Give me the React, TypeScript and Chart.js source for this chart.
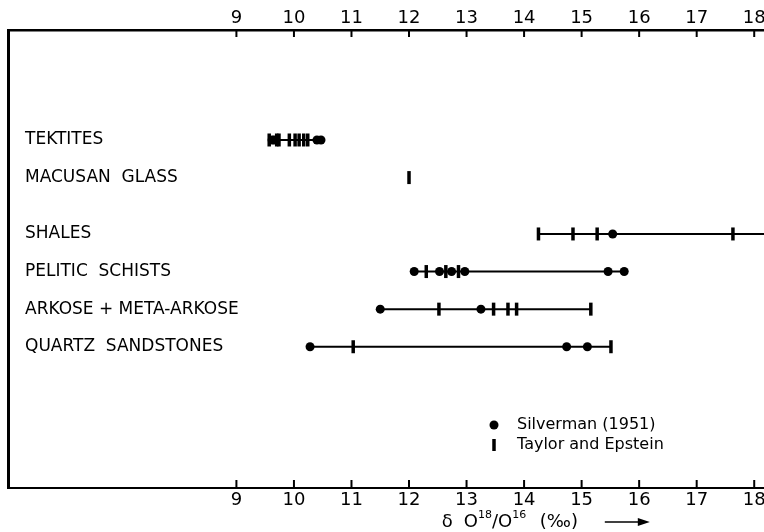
import React, { useEffect, useRef } from "react";
import { Chart, registerables } from "chart.js";

Chart.register(...registerables);

// ---- data ----
const rowNames = [
  "TEKTITES",
  "MACUSAN  GLASS",
  "SHALES",
  "PELITIC  SCHISTS",
  "ARKOSE + META-ARKOSE",
  "QUARTZ  SANDSTONES",
];
const rowPositions = [0, 1, 2.5, 3.5, 4.5, 5.5];

const silvermanValues = [
  [9.62, 9.66, 10.4, 10.47],
  [],
  [15.54],
  [12.09, 12.53, 12.74, 12.97, 15.46, 15.74],
  [11.5, 13.25],
  [10.28, 14.74, 15.1],
];
const taylorValues = [
  [9.57, 9.7, 9.74, 9.92, 10.02, 10.09, 10.17, 10.24],
  [12.0],
  [14.25, 14.85, 15.27, 17.63],
  [12.3, 12.64, 12.86],
  [12.52, 13.47, 13.72, 13.87, 15.16],
  [11.03, 15.51],
];
const rangeLow = [9.57, null, 14.25, 12.09, 11.5, 10.28];
const rangeHigh = [10.47, null, 18.6, 15.74, 15.16, 15.51];

const xTickValues = [9, 10, 11, 12, 13, 14, 15, 16, 17, 18];
const xMin = 5.03;
const xMax = 18.17;
const yMin = -2.926;
const yMax = 9.258;

const legendLabels = ["Silverman (1951)", "Taylor and Epstein"];
const FONT = "DejaVu Sans";

export default function App() {
  const canvasRef = useRef<HTMLCanvasElement | null>(null);

  useEffect(() => {
    const canvas = canvasRef.current;
    if (!canvas) return;

    const silvermanPoints: { x: number; y: number }[] = [];
    const taylorPoints: { x: number; y: number }[] = [];
    silvermanValues.forEach((vals, i) =>
      vals.forEach((v) => silvermanPoints.push({ x: v, y: rowPositions[i] }))
    );
    taylorValues.forEach((vals, i) =>
      vals.forEach((v) => taylorPoints.push({ x: v, y: rowPositions[i] }))
    );

    const lineDatasets: any[] = [];
    rangeLow.forEach((lo, i) => {
      const hi = rangeHigh[i];
      if (lo == null || hi == null) return;
      lineDatasets.push({
        type: "scatter",
        label: "range-" + i,
        data: [
          { x: lo, y: rowPositions[i] },
          { x: hi, y: rowPositions[i] },
        ],
        showLine: true,
        borderColor: "#000",
        borderWidth: 2,
        pointRadius: 0,
        pointHoverRadius: 0,
        order: 2,
      });
    });

    const fitX = (h: number) => (scale: any) => {
      scale.height = h;
      scale.paddingLeft = 0;
      scale.paddingRight = 0;
    };

    const inwardTicks = {
      id: "inwardTicks",
      afterDraw(chart: any) {
        const { ctx, chartArea } = chart;
        const xs = chart.scales.x;
        ctx.save();
        ctx.strokeStyle = "#000";
        ctx.lineWidth = 2;
        xTickValues.forEach((v) => {
          const px = xs.getPixelForValue(v);
          ctx.beginPath();
          ctx.moveTo(px, chartArea.top);
          ctx.lineTo(px, chartArea.top + 7);
          ctx.stroke();
          ctx.beginPath();
          ctx.moveTo(px, chartArea.bottom);
          ctx.lineTo(px, chartArea.bottom - 8);
          ctx.stroke();
        });
        ctx.restore();
      },
    };

    const titleAndLegend = {
      id: "titleAndLegend",
      afterDraw(chart: any) {
        const { ctx, chartArea } = chart;
        const xs = chart.scales.x;
        ctx.save();
        ctx.fillStyle = "#000";
        ctx.strokeStyle = "#000";

        // axis title
        const x0 = xs.getPixelForValue(12.57);
        const y = chartArea.bottom + 34;
        ctx.textBaseline = "middle";
        ctx.textAlign = "left";
        const main = "18px " + JSON.stringify(FONT);
        const sup = "11px " + JSON.stringify(FONT);
        ctx.font = main;
        ctx.fillText("δ", x0, y);
        let x = x0 + 22;
        const parts: [string, string, number][] = [
          ["O", main, 0],
          ["18", sup, -7],
          ["/O", main, 0],
          ["16", sup, -7],
        ];
        parts.forEach(([t, f, dy]) => {
          ctx.font = f;
          ctx.fillText(t, x, y + dy);
          x += ctx.measureText(t).width;
        });
        ctx.font = main;
        ctx.fillText("(‰)", x0 + 98, y);
        const ax0 = x0 + 163;
        const ax1 = x0 + 208;
        ctx.lineWidth = 1.5;
        ctx.beginPath();
        ctx.moveTo(ax0, y);
        ctx.lineTo(ax1 - 4, y);
        ctx.stroke();
        ctx.beginPath();
        ctx.moveTo(ax1, y);
        ctx.lineTo(ax1 - 12, y - 4);
        ctx.lineTo(ax1 - 12, y + 4);
        ctx.closePath();
        ctx.fill();

        // legend
        const lx = chartArea.left + 486;
        const ly0 = chartArea.bottom - 63;
        const ly1 = chartArea.bottom - 43;
        ctx.beginPath();
        ctx.arc(lx, ly0, 4.5, 0, Math.PI * 2);
        ctx.fill();
        ctx.lineWidth = 3.5;
        ctx.beginPath();
        ctx.moveTo(lx, ly1 - 6);
        ctx.lineTo(lx, ly1 + 6);
        ctx.stroke();
        ctx.font = "16px " + JSON.stringify(FONT);
        ctx.fillText(legendLabels[0], lx + 23, ly0);
        ctx.fillText(legendLabels[1], lx + 23, ly1);
        ctx.restore();
      },
    };

    const chart = new Chart(canvas, {
      type: "scatter",
      data: {
        datasets: [
          {
            label: legendLabels[0],
            data: silvermanPoints,
            pointStyle: "circle",
            pointRadius: 4.5,
            pointHoverRadius: 4.5,
            pointBackgroundColor: "#000",
            pointBorderWidth: 0,
            order: 0,
          },
          {
            label: legendLabels[1],
            data: taylorPoints,
            pointStyle: "line",
            pointRotation: 90,
            pointRadius: 6.5,
            pointHoverRadius: 6.5,
            pointBorderColor: "#000",
            pointBorderWidth: 3.5,
            order: 1,
          },
          ...lineDatasets,
        ] as any,
      },
      options: {
        responsive: false,
        animation: false,
        events: [],
        layout: { padding: 0, autoPadding: false },
        plugins: {
          legend: { display: false },
          title: { display: false },
          tooltip: { enabled: false },
        },
        scales: {
          x: {
            type: "linear",
            position: "bottom",
            min: xMin,
            max: xMax,
            afterBuildTicks: (scale: any) => {
              scale.ticks = xTickValues.map((v) => ({ value: v }));
            },
            afterFit: fitX(44),
            grid: { display: true, drawOnChartArea: false, drawTicks: false, color: "#000", lineWidth: 0 },
            border: { display: true, color: "#000", width: 2 },
            ticks: {
              color: "#000",
              font: { family: FONT, size: 18 },
              padding: 2,
              maxRotation: 0,
              autoSkip: false,
              callback: (v: any) => String(v),
            },
          },
          x2: {
            type: "linear",
            position: "top",
            min: xMin,
            max: xMax,
            afterBuildTicks: (scale: any) => {
              scale.ticks = xTickValues.map((v) => ({ value: v }));
            },
            afterFit: fitX(30),
            grid: { display: true, drawOnChartArea: false, drawTicks: false, color: "#000", lineWidth: 0 },
            border: { display: true, color: "#000", width: 2.5 },
            ticks: {
              color: "#000",
              font: { family: FONT, size: 18 },
              padding: 1,
              maxRotation: 0,
              autoSkip: false,
              callback: (v: any) => String(v),
            },
          },
          y: {
            type: "linear",
            position: "left",
            min: yMin,
            max: yMax,
            reverse: true,
            afterBuildTicks: (scale: any) => {
              scale.ticks = rowPositions.map((v) => ({ value: v }));
            },
            afterFit: (scale: any) => {
              scale.width = 8;
              scale.paddingTop = 0;
              scale.paddingBottom = 0;
            },
            grid: { display: true, drawOnChartArea: false, drawTicks: false, color: "#000", lineWidth: 0 },
            border: { display: true, color: "#000", width: 3 },
            ticks: {
              mirror: true,
              padding: 17,
              color: "#000",
              autoSkip: false,
              font: { family: FONT, size: 17 },
              callback: (v: any) => {
                const idx = rowPositions.indexOf(Number(v));
                return idx >= 0 ? rowNames[idx] : "";
              },
            },
          },
        },
      },
      plugins: [inwardTicks, titleAndLegend],
    });

    return () => chart.destroy();
  }, []);

  return (
    <div
      style={{
        position: "fixed",
        left: 0,
        top: 0,
        width: 764,
        height: 532,
        background: "#fff",
      }}
    >
      <canvas ref={canvasRef} width={764} height={532} style={{ display: "block" }} />
    </div>
  );
}
